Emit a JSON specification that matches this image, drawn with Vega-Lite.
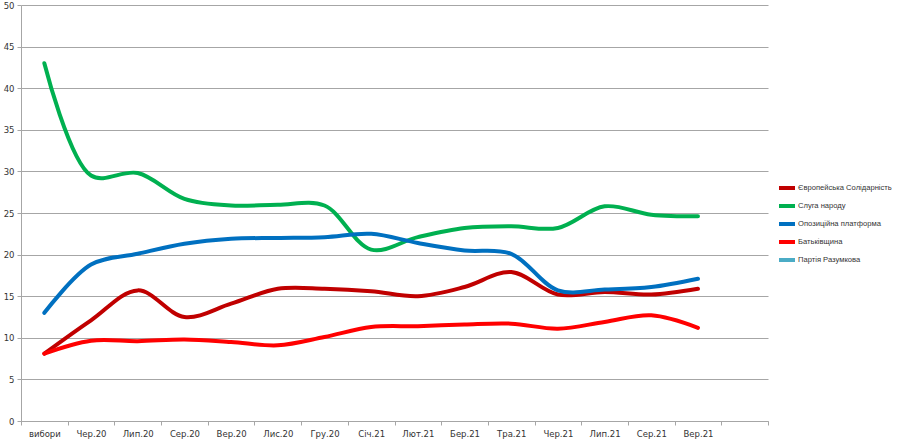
{
  "$schema": "https://vega.github.io/schema/vega-lite/v6.json",
  "width": 747,
  "height": 416,
  "autosize": {"type": "none"},
  "padding": {"left": 21, "top": 5, "right": 132, "bottom": 18},
  "background": "white",
  "config": {
    "view": {"stroke": null},
    "font": "DejaVu Sans"
  },
  "data": {
    "values": [
      {"m": "вибори", "p": "Європейська Солідарність", "v": 8.1},
      {"m": "Чер.20", "p": "Європейська Солідарність", "v": 12.1},
      {"m": "Лип.20", "p": "Європейська Солідарність", "v": 15.7},
      {"m": "Сер.20", "p": "Європейська Солідарність", "v": 12.5},
      {"m": "Вер.20", "p": "Європейська Солідарність", "v": 14.1},
      {"m": "Лис.20", "p": "Європейська Солідарність", "v": 15.9},
      {"m": "Гру.20", "p": "Європейська Солідарність", "v": 15.9},
      {"m": "Січ.21", "p": "Європейська Солідарність", "v": 15.6},
      {"m": "Лют.21", "p": "Європейська Солідарність", "v": 15.0},
      {"m": "Бер.21", "p": "Європейська Солідарність", "v": 16.1},
      {"m": "Тра.21", "p": "Європейська Солідарність", "v": 17.9},
      {"m": "Чер.21", "p": "Європейська Солідарність", "v": 15.2},
      {"m": "Лип.21", "p": "Європейська Солідарність", "v": 15.5},
      {"m": "Сер.21", "p": "Європейська Солідарність", "v": 15.2},
      {"m": "Вер.21", "p": "Європейська Солідарність", "v": 15.9},
      {"m": "вибори", "p": "Слуга народу", "v": 43.0},
      {"m": "Чер.20", "p": "Слуга народу", "v": 29.5},
      {"m": "Лип.20", "p": "Слуга народу", "v": 29.8},
      {"m": "Сер.20", "p": "Слуга народу", "v": 26.7},
      {"m": "Вер.20", "p": "Слуга народу", "v": 25.9},
      {"m": "Лис.20", "p": "Слуга народу", "v": 26.0},
      {"m": "Гру.20", "p": "Слуга народу", "v": 25.9},
      {"m": "Січ.21", "p": "Слуга народу", "v": 20.6},
      {"m": "Лют.21", "p": "Слуга народу", "v": 22.1},
      {"m": "Бер.21", "p": "Слуга народу", "v": 23.2},
      {"m": "Тра.21", "p": "Слуга народу", "v": 23.4},
      {"m": "Чер.21", "p": "Слуга народу", "v": 23.2},
      {"m": "Лип.21", "p": "Слуга народу", "v": 25.8},
      {"m": "Сер.21", "p": "Слуга народу", "v": 24.8},
      {"m": "Вер.21", "p": "Слуга народу", "v": 24.6},
      {"m": "вибори", "p": "Опозиційна платформа", "v": 13.0},
      {"m": "Чер.20", "p": "Опозиційна платформа", "v": 18.8},
      {"m": "Лип.20", "p": "Опозиційна платформа", "v": 20.1},
      {"m": "Сер.20", "p": "Опозиційна платформа", "v": 21.3},
      {"m": "Вер.20", "p": "Опозиційна платформа", "v": 21.9},
      {"m": "Лис.20", "p": "Опозиційна платформа", "v": 22.0},
      {"m": "Гру.20", "p": "Опозиційна платформа", "v": 22.1},
      {"m": "Січ.21", "p": "Опозиційна платформа", "v": 22.5},
      {"m": "Лют.21", "p": "Опозиційна платформа", "v": 21.4},
      {"m": "Бер.21", "p": "Опозиційна платформа", "v": 20.5},
      {"m": "Тра.21", "p": "Опозиційна платформа", "v": 20.1},
      {"m": "Чер.21", "p": "Опозиційна платформа", "v": 15.7},
      {"m": "Лип.21", "p": "Опозиційна платформа", "v": 15.8},
      {"m": "Сер.21", "p": "Опозиційна платформа", "v": 16.1},
      {"m": "Вер.21", "p": "Опозиційна платформа", "v": 17.1},
      {"m": "вибори", "p": "Батьківщина", "v": 8.1},
      {"m": "Чер.20", "p": "Батьківщина", "v": 9.65},
      {"m": "Лип.20", "p": "Батьківщина", "v": 9.6},
      {"m": "Сер.20", "p": "Батьківщина", "v": 9.8},
      {"m": "Вер.20", "p": "Батьківщина", "v": 9.5},
      {"m": "Лис.20", "p": "Батьківщина", "v": 9.1},
      {"m": "Гру.20", "p": "Батьківщина", "v": 10.1},
      {"m": "Січ.21", "p": "Батьківщина", "v": 11.3},
      {"m": "Лют.21", "p": "Батьківщина", "v": 11.4},
      {"m": "Бер.21", "p": "Батьківщина", "v": 11.6},
      {"m": "Тра.21", "p": "Батьківщина", "v": 11.7},
      {"m": "Чер.21", "p": "Батьківщина", "v": 11.1},
      {"m": "Лип.21", "p": "Батьківщина", "v": 11.9},
      {"m": "Сер.21", "p": "Батьківщина", "v": 12.7},
      {"m": "Вер.21", "p": "Батьківщина", "v": 11.2}
    ]
  },
  "mark": {"type": "line", "strokeWidth": 4, "interpolate": "catmull-rom", "strokeCap": "round"},
  "encoding": {
    "x": {
      "field": "m",
      "type": "nominal",
      "sort": null,
      "scale": {
        "type": "band",
        "domain": ["вибори", "Чер.20", "Лип.20", "Сер.20", "Вер.20", "Лис.20", "Гру.20", "Січ.21", "Лют.21", "Бер.21", "Тра.21", "Чер.21", "Лип.21", "Сер.21", "Вер.21", " "],
        "paddingInner": 0,
        "paddingOuter": 0
      },
      "axis": {
        "title": null,
        "labelAngle": 0,
        "tickBand": "extent",
        "tickSize": 4,
        "tickColor": "#a6a6a6",
        "domainColor": "#a6a6a6",
        "labelFont": "DejaVu Sans",
        "labelFontSize": 8.5,
        "labelColor": "#333333",
        "labelPadding": 4,
        "grid": false
      }
    },
    "y": {
      "field": "v",
      "type": "quantitative",
      "scale": {"domain": [0, 50], "nice": false},
      "axis": {
        "title": null,
        "values": [0, 5, 10, 15, 20, 25, 30, 35, 40, 45, 50],
        "tickSize": 4,
        "tickColor": "#a6a6a6",
        "domainColor": "#a6a6a6",
        "gridColor": "#a6a6a6",
        "gridWidth": 1,
        "labelFont": "DejaVu Sans",
        "labelFontSize": 8.5,
        "labelColor": "#333333",
        "labelPadding": 3
      }
    },
    "color": {
      "field": "p",
      "type": "nominal",
      "scale": {
        "domain": ["Європейська Солідарність", "Слуга народу", "Опозиційна платформа", "Батьківщина", "Партія Разумкова"],
        "range": ["#c00000", "#00b050", "#0070c0", "#ff0000", "#4bacc6"]
      },
      "legend": {
        "title": null,
        "orient": "none",
        "legendX": 756,
        "legendY": 173,
        "padding": 0,
        "symbolType": "stroke",
        "symbolStrokeWidth": 4,
        "symbolSize": 256,
        "rowPadding": 0,
        "labelFont": "Liberation Sans",
        "labelFontSize": 7.6,
        "labelColor": "#333333",
        "labelOffset": 1,
        "labelLimit": 200
      }
    }
  }
}
